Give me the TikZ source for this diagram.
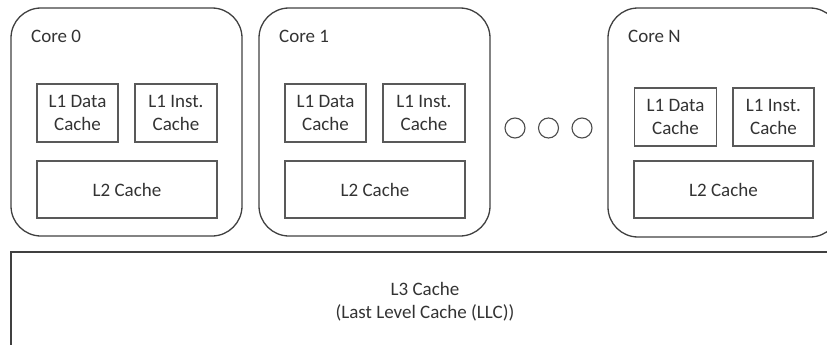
\documentclass[tikz,border=0pt]{standalone}
\usepackage{fontspec}
\setmainfont{Carlito}
\begin{document}
\begin{tikzpicture}[x=1pt,y=-1pt,
  corebox/.style={draw=black!75, line width=1.3pt, rounded corners=30pt},
  cachebox/.style={draw=black!65, line width=1.3pt, align=center, inner sep=0pt,
    font=\fontsize{19}{23}\selectfont, text=black!80},
  corelabel/.style={anchor=west, inner sep=0pt, font=\fontsize{19}{23}\selectfont, text=black!80},
  dotc/.style={draw=black!70, line width=1.1pt, circle, minimum size=20pt, inner sep=0pt}]
\useasboundingbox (0,0) rectangle (827,345);
\clip (0,0) rectangle (827,345);

% Core 0
\draw[corebox] (11,8) rectangle (242,236);
\node[corelabel] (c0) at (31,36) {Core 0};
\node[cachebox, minimum width=81pt, minimum height=58pt] (d0) at (77.5,113) {L1 Data\\Cache};
\node[cachebox, minimum width=82pt, minimum height=58pt] (i0) at (176,113) {L1 Inst.\\Cache};
\node[cachebox, minimum width=180pt, minimum height=57pt] (l20) at (127,189.5) {L2 Cache};

% Core 1
\draw[corebox] (259,8) rectangle (490,236);
\node[corelabel] (c1) at (279,36) {Core 1};
\node[cachebox, minimum width=81pt, minimum height=58pt] (d1) at (325.5,113) {L1 Data\\Cache};
\node[cachebox, minimum width=82pt, minimum height=58pt] (i1) at (424,113) {L1 Inst.\\Cache};
\node[cachebox, minimum width=180pt, minimum height=57pt] (l21) at (375,189.5) {L2 Cache};

% Ellipsis between cores
\node[dotc] (e1) at (515,128) {};
\node[dotc] (e2) at (548.5,128) {};
\node[dotc] (e3) at (582,128) {};

% Core N
\draw[corebox] (608,8) rectangle (840,237);
\node[corelabel] (cn) at (628,36) {Core N};
\node[cachebox, minimum width=82pt, minimum height=58pt] (dn) at (675.5,117) {L1 Data\\Cache};
\node[cachebox, minimum width=81pt, minimum height=58pt] (in) at (773.5,117) {L1 Inst.\\Cache};
\node[cachebox, minimum width=179pt, minimum height=57pt] (l2n) at (723.5,189.5) {L2 Cache};

% Shared last-level cache
\draw[draw=black!75, line width=1.3pt] (11,360) -- (11,252) -- (840,252);
\node[align=center, inner sep=0pt, font=\fontsize{19}{23}\selectfont, text=black!80] (l3) at (425,301.5) {L3 Cache\\(Last Level Cache (LLC))};
\end{tikzpicture}
\end{document}
